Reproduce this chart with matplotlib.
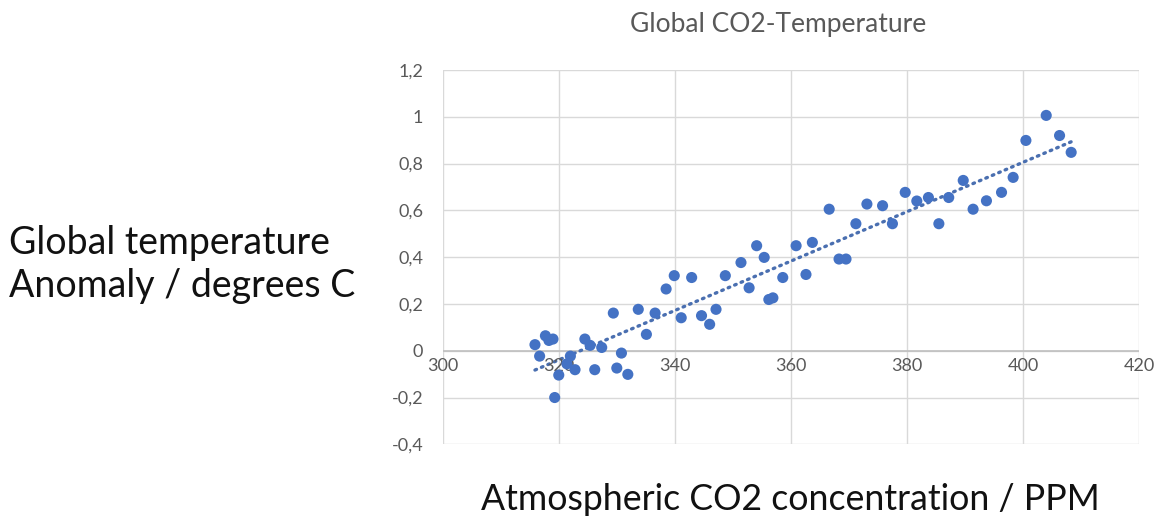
import numpy as np
import matplotlib.pyplot as plt

# CO2 (ppm) vs temperature anomaly (degrees C)
co2 = [315.9, 316.7, 317.7, 318.3, 319.0, 319.3, 320.0, 321.4, 322.0, 322.8,
       324.5, 325.4, 326.2, 327.4, 329.4, 330.0, 330.8, 331.9, 333.7, 335.1,
       336.6, 338.5, 339.9, 341.1, 342.9, 344.6, 346.0, 347.1, 348.7, 351.4,
       352.8, 354.1, 355.4, 356.2, 356.9, 358.6, 360.9, 362.6, 363.7, 366.6,
       368.3, 369.5, 371.2, 373.1, 375.8, 377.5, 379.7, 381.7, 383.7, 385.5,
       387.2, 389.7, 391.4, 393.7, 396.3, 398.3, 400.5, 404.0, 406.3, 408.3]
temp = [0.026, -0.023, 0.064, 0.044, 0.050, -0.20, -0.104, -0.056, -0.023, -0.081,
        0.050, 0.023, -0.081, 0.014, 0.161, -0.074, -0.010, -0.101, 0.177, 0.070,
        0.161, 0.264, 0.321, 0.141, 0.313, 0.150, 0.113, 0.177, 0.321, 0.377,
        0.269, 0.449, 0.399, 0.219, 0.226, 0.313, 0.449, 0.326, 0.463, 0.605,
        0.392, 0.392, 0.543, 0.627, 0.620, 0.543, 0.677, 0.640, 0.655, 0.543,
        0.655, 0.728, 0.605, 0.641, 0.677, 0.741, 0.899, 1.006, 0.920, 0.848]

yticks = [-0.4, -0.2, 0, 0.2, 0.4, 0.6, 0.8, 1, 1.2]
xticks = [300, 320, 340, 360, 380, 400, 420]

plt.rcParams['font.family'] = ['Lato', 'DejaVu Sans']

fig = plt.figure(figsize=(11.55, 5.19), dpi=100)
ax = fig.add_axes([0.3833, 0.1439, 0.6029, 0.7212])

blue = '#4472C4'
grid = '#d9d9d9'
tick_col = '#595959'

# linear trendline
x = np.array(co2)
y = np.array(temp)
k, b = np.polyfit(x, y, 1)
xt = np.array([x.min(), x.max()])
ax.plot(xt, k * xt + b, color='#4a6fb0', lw=2.4, ls=(0, (0.5, 1.6)),
        dash_capstyle='round', zorder=2)

ax.scatter(x, y, s=64, color=blue, edgecolors='none', zorder=3)

ax.set_xlim(300, 420)
ax.set_ylim(-0.4, 1.2)
ax.set_xticks(xticks)
ax.set_yticks(yticks)
ax.grid(True, color=grid, lw=1)
ax.set_axisbelow(True)
for s in ax.spines.values():
    s.set_visible(False)
ax.axhline(0, color='#bfbfbf', lw=1.2, zorder=1)

ax.tick_params(length=0, colors=tick_col, labelsize=13)
ax.set_yticklabels([('%g' % v).replace('.', ',') for v in yticks])
ax.tick_params(axis='y', pad=14)
ax.set_xticklabels([])
for v in xticks:
    ax.text(v, -0.03, str(v), ha='center', va='top', fontsize=13,
            color=tick_col, zorder=2.5)

fig.text(0.674, 0.952, 'Global CO2-Temperature', ha='center', va='center',
         fontsize=19, color=tick_col)
fig.text(0.008, 0.49, 'Global temperature\nAnomaly / degrees C', ha='left',
         va='center', fontsize=27, color='#111111', linespacing=1.25)
fig.text(0.684, 0.037, 'Atmospheric CO2 concentration / PPM', ha='center',
         va='center', fontsize=25.7, color='#111111')

fig.savefig('out.png', dpi=100)
